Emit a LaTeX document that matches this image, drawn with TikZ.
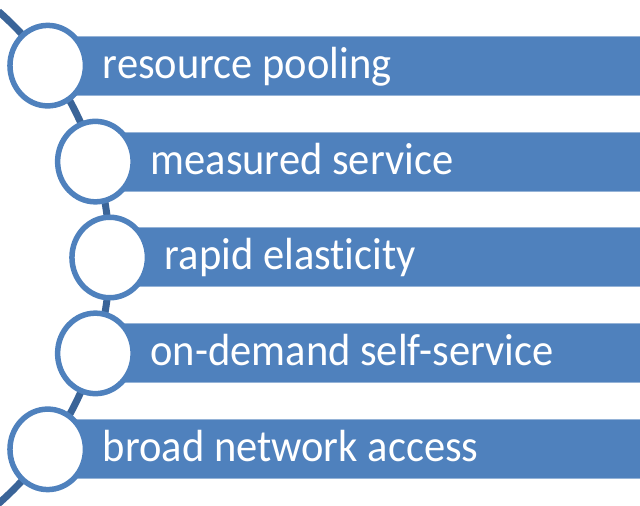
\documentclass[tikz,border=0pt]{standalone}
\usepackage{fontspec}
\setmainfont[Ligatures=NoCommon]{Carlito}
\usetikzlibrary{shapes.geometric}
\definecolor{barblue}{RGB}{79,129,189}
\definecolor{linkblue}{RGB}{58,100,152}
\definecolor{edgeblue}{RGB}{149,179,215}

\begin{document}
\begin{tikzpicture}[x=1pt,y=1pt,
    barbox/.style={fill=barblue,draw=edgeblue,line width=1pt},
    ring/.style={ellipse,fill=white,draw=barblue,line width=5.5pt,
      minimum width=75.5pt,minimum height=80.5pt,inner sep=0pt},
    itemtext/.style={text=white,inner sep=0pt,yscale=1.06,transform shape,
      font=\fontsize{42.5}{50}\selectfont}]
    \def \R {328}     % radius of the guide arc
    \def \barh {59}   % height of a bar
    \useasboundingbox (0,0) rectangle (640,506);
    \clip (0,0) rectangle (640,506);
    \coordinate (hub) at (-218.3,248.5);
    % the curved spine behind the rings
    \draw[linkblue,line width=7pt] ([shift={(48.6:\R)}]hub) arc (48.6:-49:\R);
    \foreach \ang/\txt [count=\i] in {35.8/resource pooling, 17/measured service,
        0/rapid elasticity, -17/on-demand self-service, -35.8/broad network access}
    {
      \coordinate (c\i) at ([shift={(\ang:\R)}]hub);
      \path[barbox] ([yshift=-29.5]c\i) rectangle ++(700,\barh);
      \node[ring] (r\i) at (c\i) {};
      \node[itemtext,anchor=base west] (t\i) at ([xshift=55,yshift=-12.5]c\i) {\txt};
    }
\end{tikzpicture}
\end{document}
